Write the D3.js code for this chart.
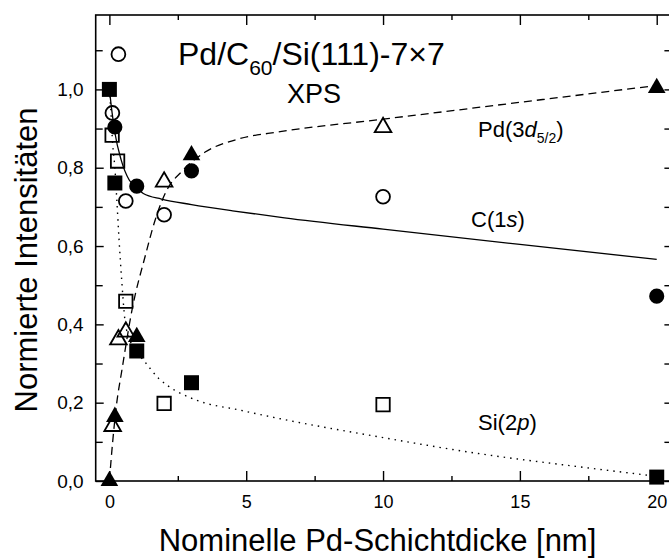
<!DOCTYPE html>
<html>
<head>
<meta charset="utf-8">
<script src="https://d3js.org/d3.v7.min.js"></script>
<style>
  body { margin: 0; background: #fff; }
  svg { font-family: "Liberation Sans", Arial, sans-serif; }
</style>
</head>
<body>
<div id="chart"></div>
<script>
var width = 669,
    height = 560;

// measured values [thickness nm, normalised intensity]
var c1sOpen   = [[0.11, 0.94], [0.33, 1.09], [0.6, 0.715], [2, 0.68], [10, 0.726]];
var c1sFilled = [[0.2, 0.904], [1, 0.753], [3, 0.792], [20, 0.472]];
var siOpen    = [[0.1, 0.883], [0.3, 0.817], [0.6, 0.459], [2, 0.198], [10, 0.195]];
var siFilled  = [[0, 1.0], [0.2, 0.761], [1, 0.332], [3, 0.251], [20, 0.01]];
var pdOpen    = [[0.12, 0.14], [0.33, 0.361], [0.6, 0.381], [2, 0.764], [10, 0.903]];
var pdFilled  = [[0, 0.0], [0.2, 0.164], [1, 0.368], [3, 0.832], [20, 1.004]];

// guide curves
var c1sFit = [[0, 1.0], [0.1, 0.94], [0.2, 0.89], [0.43, 0.82], [0.73, 0.768], [1.0, 0.75],
              [1.24, 0.734], [1.9, 0.72], [3, 0.706], [4.5, 0.69], [6.4, 0.672], [10, 0.643],
              [15, 0.604], [20, 0.566]];
var pdFit  = [[0, 0.0], [0.12, 0.1], [0.27, 0.2], [0.45, 0.28], [0.85, 0.445], [1.3, 0.572],
              [1.67, 0.666], [2.1, 0.743], [2.64, 0.79], [3.5, 0.84], [4.65, 0.872],
              [6.24, 0.892], [10, 0.924], [15, 0.967], [20, 1.01]];
var siFit  = [[0, 1.0], [0.05, 0.95], [0.12, 0.86], [0.2, 0.8], [0.27, 0.72], [0.35, 0.62],
              [0.45, 0.513], [0.57, 0.41], [0.75, 0.36], [1.0, 0.33], [1.3, 0.304], [1.8, 0.262],
              [2.1, 0.245], [3.2, 0.206], [4.77, 0.181], [6.24, 0.159], [9.9, 0.112],
              [13.5, 0.07], [17.2, 0.036], [20, 0.012]];

var xMajor = [0, 5, 10, 15, 20];
var xMinor = [2.5, 7.5, 12.5, 17.5];
var yMajor = [0, 0.2, 0.4, 0.6, 0.8, 1.0];
var yMinor = [0.1, 0.3, 0.5, 0.7, 0.9, 1.1];
var yTickLabels = ["0,0", "0,2", "0,4", "0,6", "0,8", "1,0"];

var plotLeft = 95.7, plotRight = 670.4, plotTop = 15, plotBottom = 481;

var x = d3.scaleLinear().domain([-0.5, 20.5]).range([plotLeft, plotRight]);
var y = d3.scaleLinear().domain([0, 1.19]).range([plotBottom, plotTop]);

var svg = d3.select("#chart").append("svg")
    .attr("width", width)
    .attr("height", height);

// guide lines
var line = d3.line()
    .x(d => x(d[0]))
    .y(d => y(d[1]))
    .curve(d3.curveMonotoneX);

svg.append("path").datum(c1sFit)
    .attr("d", line)
    .attr("fill", "none")
    .attr("stroke", "#000")
    .attr("stroke-width", 1.3);

svg.append("path").datum(pdFit)
    .attr("d", line)
    .attr("fill", "none")
    .attr("stroke", "#000")
    .attr("stroke-width", 1.3)
    .attr("stroke-dasharray", "8,5");

svg.append("path").datum(siFit)
    .attr("d", line)
    .attr("fill", "none")
    .attr("stroke", "#000")
    .attr("stroke-width", 1.4)
    .attr("stroke-dasharray", "1.5,5");

// markers
function drawMarkers(data, type, size, filled) {
  svg.append("g").selectAll("path")
    .data(data)
    .enter()
    .append("path")
      .attr("transform", d => "translate(" + x(d[0]) + "," + y(d[1]) + ")")
      .attr("d", d3.symbol().type(type).size(size))
      .attr("fill", filled ? "#000" : "none")
      .attr("stroke", "#000")
      .attr("stroke-width", filled ? 0 : 1.8);
}

drawMarkers(c1sOpen, d3.symbolCircle, 150, false);
drawMarkers(c1sFilled, d3.symbolCircle, 180, true);
drawMarkers(siOpen, d3.symbolSquare, 180, false);
drawMarkers(siFilled, d3.symbolSquare, 225, true);
drawMarkers(pdOpen, d3.symbolTriangle, 120, false);
drawMarkers(pdFilled, d3.symbolTriangle, 135, true);

// axes, ticks pointing inward
function axisGroup(axis, tx, ty, fontSize) {
  var g = svg.append("g")
      .attr("transform", "translate(" + tx + "," + ty + ")")
      .call(axis);
  g.select(".domain").remove();
  g.attr("font-size", fontSize).attr("font-family", "'Liberation Sans', Arial, sans-serif");
  g.selectAll("line").attr("stroke", "#000").attr("stroke-width", 1.4);
  g.selectAll("text").attr("fill", "#000");
  return g;
}

axisGroup(d3.axisBottom(x).tickValues(xMajor).tickSize(-10).tickPadding(14).tickFormat(d3.format("d")), 0, plotBottom, 18);
axisGroup(d3.axisBottom(x).tickValues(xMinor).tickSize(-5).tickFormat(""), 0, plotBottom, 18);
axisGroup(d3.axisTop(x).tickValues(xMajor).tickSize(-10).tickFormat(""), 0, plotTop, 18);
axisGroup(d3.axisTop(x).tickValues(xMinor).tickSize(-5).tickFormat(""), 0, plotTop, 18);

axisGroup(d3.axisLeft(y).tickValues(yMajor).tickSize(-8).tickPadding(12)
    .tickFormat((d, i) => yTickLabels[i]), plotLeft, 0, 19);
axisGroup(d3.axisLeft(y).tickValues(yMinor).tickSize(-7).tickFormat(""), plotLeft, 0, 19);
axisGroup(d3.axisRight(y).tickValues(yMajor.concat(yMinor)).tickSize(-6).tickFormat(""), plotRight, 0, 19);

// frame
svg.append("rect")
    .attr("x", plotLeft)
    .attr("y", plotTop)
    .attr("width", plotRight - plotLeft)
    .attr("height", plotBottom - plotTop)
    .attr("fill", "none")
    .attr("stroke", "#000")
    .attr("stroke-width", 1.6);

// axis titles
svg.append("text")
    .attr("x", (153 + 602) / 2)
    .attr("y", 551)
    .attr("text-anchor", "middle")
    .style("font-size", "31px")
    .text("Nominelle Pd-Schichtdicke [nm]");

svg.append("text")
    .attr("transform", "translate(37,260) rotate(-90)")
    .attr("text-anchor", "middle")
    .style("font-size", "31px")
    .text("Normierte Intensitäten");

// annotations
var title = svg.append("text")
    .attr("x", 178)
    .attr("y", 65)
    .style("font-size", "32px");
title.append("tspan").text("Pd/C");
title.append("tspan").attr("dy", 10).style("font-size", "21px").text("60");
title.append("tspan").attr("dy", -10).text("/Si(111)-7×7");

svg.append("text")
    .attr("x", 287)
    .attr("y", 103)
    .style("font-size", "27px")
    .text("XPS");

var pdLabel = svg.append("text")
    .attr("x", 478)
    .attr("y", 137)
    .style("font-size", "22px");
pdLabel.append("tspan").text("Pd(3");
pdLabel.append("tspan").style("font-style", "italic").text("d");
pdLabel.append("tspan").attr("dy", 6).style("font-size", "14px").text("5/2");
pdLabel.append("tspan").attr("dy", -6).text(")");

var cLabel = svg.append("text")
    .attr("x", 471)
    .attr("y", 227)
    .style("font-size", "22px");
cLabel.append("tspan").text("C(1");
cLabel.append("tspan").style("font-style", "italic").text("s");
cLabel.append("tspan").text(")");

var siLabel = svg.append("text")
    .attr("x", 478)
    .attr("y", 430)
    .style("font-size", "22px");
siLabel.append("tspan").text("Si(2");
siLabel.append("tspan").style("font-style", "italic").text("p");
siLabel.append("tspan").text(")");
</script>
</body>
</html>
